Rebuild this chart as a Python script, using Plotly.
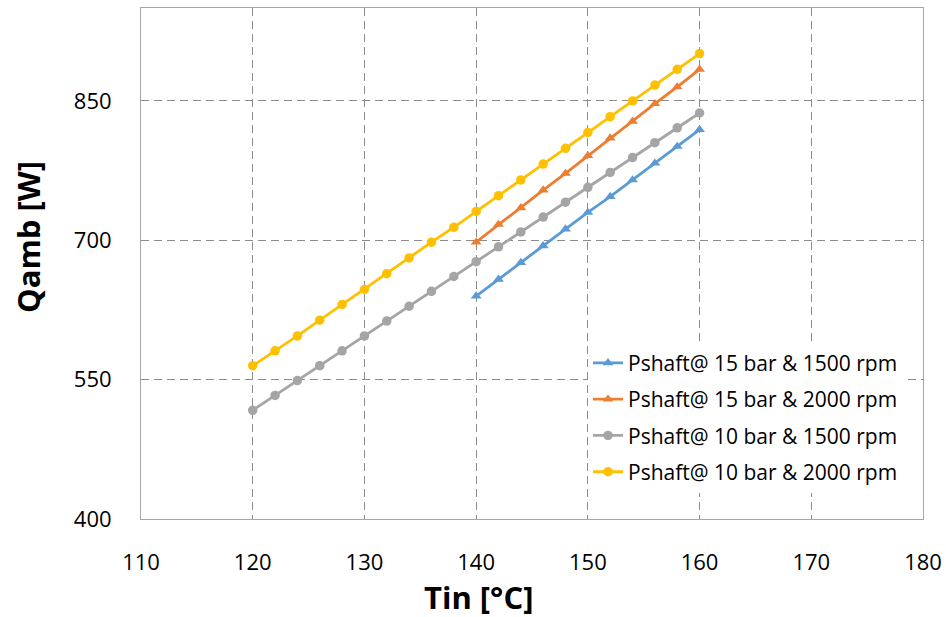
import plotly.graph_objects as go

# Inlet temperature sweeps [°C]
tin_10bar = [120, 122, 124, 126, 128, 130, 132, 134, 136, 138, 140,
             142, 144, 146, 148, 150, 152, 154, 156, 158, 160]
tin_15bar = [140, 142, 144, 146, 148, 150, 152, 154, 156, 158, 160]

# Heat to ambient [W]
q_15bar_1500 = [640, 658, 676, 694, 712, 730, 747, 765, 783, 801, 819]
q_15bar_2000 = [698, 717, 735, 754, 772, 791, 810, 828, 847, 865, 884]
q_10bar_1500 = [517, 533, 549, 565, 581, 597, 613, 629, 645, 661, 677,
                693, 709, 725, 741, 757, 773, 789, 805, 821, 837]
q_10bar_2000 = [565, 581, 597, 614, 631, 647, 664, 681, 698, 714, 731,
                748, 765, 782, 799, 816, 833, 850, 867, 884, 901]

series = [
    ("Pshaft@ 15 bar & 1500 rpm", tin_15bar, q_15bar_1500, "#5B9BD5", "triangle-up"),
    ("Pshaft@ 15 bar & 2000 rpm", tin_15bar, q_15bar_2000, "#ED7D31", "triangle-up"),
    ("Pshaft@ 10 bar & 1500 rpm", tin_10bar, q_10bar_1500, "#A5A5A5", "circle"),
    ("Pshaft@ 10 bar & 2000 rpm", tin_10bar, q_10bar_2000, "#FFC000", "circle"),
]

x_ticks = [110, 120, 130, 140, 150, 160, 170, 180]
y_ticks = [400, 550, 700, 850]

FONT = "Open Sans"

fig = go.Figure()
for i, (name, xs, ys, color, symbol) in enumerate(series):
    fig.add_trace(go.Scatter(
        x=xs, y=ys, name=name, mode="lines+markers",
        legendgroup=f"g{i}",
        line=dict(color=color, width=2.8),
        marker=dict(color=color, symbol=symbol, size=9.5, line=dict(width=0)),
    ))

axis_common = dict(
    showline=True, linecolor="#A6A6A6", linewidth=1, mirror=True,
    showgrid=True, gridcolor="#8C8C8C", gridwidth=1, griddash="8px,5px",
    zeroline=False, ticks="", automargin=False,
    tickfont=dict(family=FONT, size=22, color="#000000"),
)

fig.update_layout(
    width=946, height=617,
    margin=dict(l=141, r=23, t=8, b=98, autoexpand=False),
    paper_bgcolor="white", plot_bgcolor="white",
    font=dict(family=FONT, color="#000000"),
    showlegend=True,
    legend=dict(
        x=(588 - 141) / 782, y=0.345, xanchor="left", yanchor="top",
        bgcolor="white", borderwidth=0,
        font=dict(family=FONT, size=21, color="#000000"),
        traceorder="grouped", tracegroupgap=6,
        itemwidth=30,
    ),
    xaxis=dict(range=[110, 180], tickvals=x_ticks, ticklabelstandoff=24, **axis_common),
    yaxis=dict(range=[400, 950], tickvals=y_ticks, ticklabelstandoff=24, **axis_common),
)

# Axis titles placed as annotations
fig.add_annotation(
    text="<b>Tin [°C]</b>", xref="paper", yref="paper",
    x=(478 - 141) / 782, y=-(597 - 519) / 511, xanchor="center", yanchor="middle",
    showarrow=False, font=dict(family=FONT, size=31, color="#000000"),
)
fig.add_annotation(
    text="<b>Qamb [W]</b>", xref="paper", yref="paper", textangle=-90,
    x=-(141 - 28) / 782, y=(519 - 237) / 511, xanchor="center", yanchor="middle",
    showarrow=False, font=dict(family=FONT, size=31, color="#000000"),
)

fig.write_html("out.html")
